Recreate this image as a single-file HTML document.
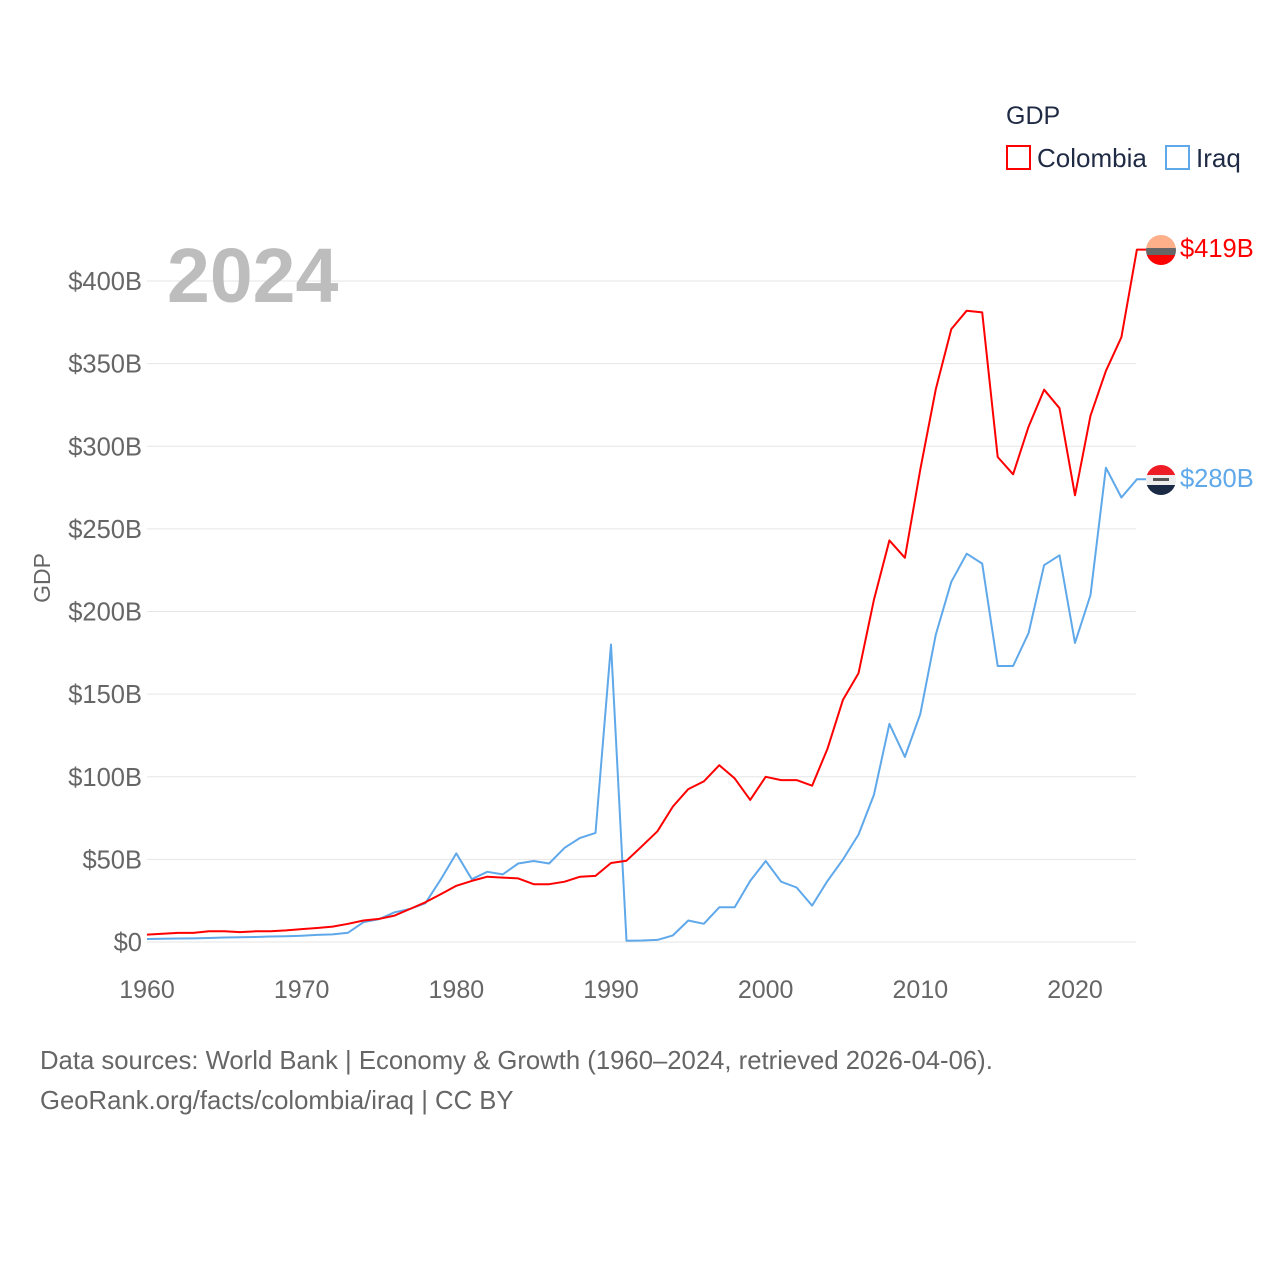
<!DOCTYPE html>
<html><head><meta charset="utf-8"><style>
body{margin:0;background:#fff;font-family:"Liberation Sans",sans-serif}
svg text{font-family:"Liberation Sans",sans-serif}
</style></head><body>
<svg id="chart" width="1280" height="1280" viewBox="0 0 1280 1280">
<rect width="1280" height="1280" fill="#fff"/>
<g id="grid"></g><g id="yticks"></g><g id="xticks"></g><g id="lines"></g>
<text x="167" y="302" font-size="77" font-weight="bold" fill="#bdbdbd">2024</text>
<text transform="translate(50,578) rotate(-90)" text-anchor="middle" font-size="23" fill="#666">GDP</text>
<text x="1006" y="124" font-size="25" fill="#1f2a44">GDP</text>
<g><rect x="1007" y="146" width="23" height="23" fill="none" stroke="#ff0000" stroke-width="2"/><text x="1037" y="167" font-size="26" fill="#1f2a44">Colombia</text></g>
<g><rect x="1166" y="146" width="23" height="23" fill="none" stroke="#5fa8ea" stroke-width="2"/><text x="1196" y="167" font-size="26" fill="#1f2a44">Iraq</text></g>
<text x="40" y="1069" font-size="25.7" fill="#666">Data sources: World Bank | Economy &amp; Growth (1960–2024, retrieved 2026-04-06).</text>
<text x="40" y="1109" font-size="25.7" fill="#666">GeoRank.org/facts/colombia/iraq | CC BY</text>
<defs>
<clipPath id="c1"><circle cx="1161" cy="250" r="15"/></clipPath>
<clipPath id="c2"><circle cx="1161" cy="480" r="15"/></clipPath>
</defs>
<g clip-path="url(#c1)"><rect x="1146" y="235" width="30" height="13" fill="#fdb08a"/><rect x="1146" y="248" width="30" height="7" fill="#666"/><rect x="1146" y="255" width="30" height="10" fill="#ff0000"/></g>
<g clip-path="url(#c2)"><rect x="1146" y="465" width="30" height="10" fill="#ee1c25"/><rect x="1146" y="475" width="30" height="10" fill="#eee"/><rect x="1146" y="485" width="30" height="10" fill="#1a2a44"/><rect x="1153" y="478" width="16" height="3" fill="#555"/></g>
<text x="1180" y="257" font-size="25.5" fill="#ff0000">$419B</text>
<text x="1180" y="487" font-size="25.5" fill="#5fa8ea">$280B</text>
</svg>
<script>
const years=[];for(let y=1960;y<=2024;y++)years.push(y);
const colombia=[4.5,5,5.5,5.5,6.5,6.5,6,6.5,6.5,7,7.8,8.5,9.3,11,13,14,16,20,24,29,34,37,39.5,39,38.5,35,35,36.5,39.5,40,47.8,49.2,58,67,82,92.5,97.2,107,99,86,100,98,98,94.6,117,146.6,162.6,207,243,232.5,286,334.5,370.9,382,381,293.5,283,311.9,334.2,323,270.3,318.5,345.6,366,419];
const iraq=[1.8,2,2.1,2.2,2.4,2.7,2.9,3,3.3,3.5,3.8,4.3,4.6,5.6,12,13.8,18,20,23.5,38,53.6,38,42.5,40.9,47.5,49,47.5,57,63,66,180,0.8,0.9,1.3,4,13,11,21,21,37,49,36.5,33,22,37,50,65,89,132,112,138,186,218,235,229,167,167,187,228,234,181,210,287,269,280];
const yTicks=[0,50,100,150,200,250,300,350,400];
const xTicks=[1960,1970,1980,1990,2000,2010,2020];
const NS="http://www.w3.org/2000/svg";
const X=y=>147+(y-1960)*(928/60);
const Y=v=>942-v*(661/400);
function mk(tag,attrs,parent){const e=document.createElementNS(NS,tag);for(const k in attrs)e.setAttribute(k,attrs[k]);document.getElementById(parent).appendChild(e);return e;}
yTicks.forEach(v=>{
 const l=mk('line',{x1:147,x2:1136,y1:Y(v),y2:Y(v),stroke:'#e6e6e6','stroke-width':1},'grid');
 
 
 const t=mk('text',{x:142,y:Y(v)+9,'text-anchor':'end','font-size':25.5,fill:'#666'},'yticks');
 t.textContent='$'+v+(v?'B':'');
 
 
});
xTicks.forEach(v=>{
 const t=mk('text',{x:X(v),y:998,'text-anchor':'middle','font-size':25,fill:'#666'},'xticks');
 t.textContent=v;
 
 
});
function line(data,color,name){
 let d=data.map((v,i)=>(i?'L':'M')+X(years[i]).toFixed(1)+','+Y(v).toFixed(1)).join('');
 d+='L1146,'+Y(data[data.length-1]).toFixed(1);
 const p=mk('path',{d:d,fill:'none',stroke:color,'stroke-width':2,'stroke-linejoin':'round'},'lines');
 
 
}
line(iraq,'#5fa8ea','iraq-line');
line(colombia,'#ff0000','colombia-line');
</script>
</body></html>
